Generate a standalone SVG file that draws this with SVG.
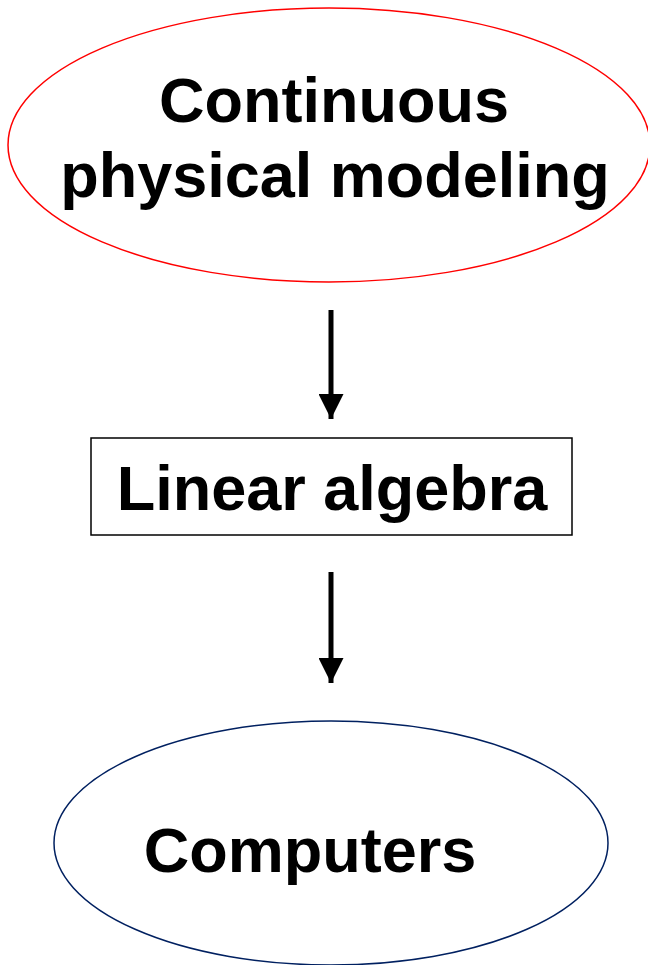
<svg xmlns="http://www.w3.org/2000/svg" width="648" height="965" viewBox="0 0 648 965">
<style>
.t{font-family:"Liberation Sans",Arial,sans-serif;font-weight:bold;font-size:63px;fill:#000;text-anchor:middle}
.c{stroke:#000;stroke-width:5;fill:none}
</style>
<defs>
<marker id="ah" viewBox="0 0 10 10" refX="10" refY="5" markerWidth="5" markerHeight="5" markerUnits="strokeWidth" orient="auto">
<path d="M0,0 L10,5 L0,10 Z" fill="#000"/>
</marker>
</defs>
<rect width="648" height="965" fill="#fff"/>
<g id="n1">
<ellipse cx="329" cy="145" rx="321" ry="137" fill="#fff" stroke="#ff0000" stroke-width="1.5"/>
<text class="t" x="334" y="122">Continuous</text>
<text class="t" x="335" y="197">physical modeling</text>
</g>
<g id="n2">
<rect x="91" y="438" width="481" height="97" fill="#fff" stroke="#000" stroke-width="1.5"/>
<text class="t" x="332" y="510">Linear algebra</text>
</g>
<g id="n3">
<ellipse cx="331" cy="843" rx="277" ry="122" fill="#fff" stroke="#002060" stroke-width="1.5"/>
<text class="t" x="310" y="872">Computers</text>
</g>
<g id="edges">
<line class="c" x1="331" y1="310" x2="331" y2="419" marker-end="url(#ah)"/>
<line class="c" x1="331" y1="572" x2="331" y2="683" marker-end="url(#ah)"/>
</g>
</svg>
